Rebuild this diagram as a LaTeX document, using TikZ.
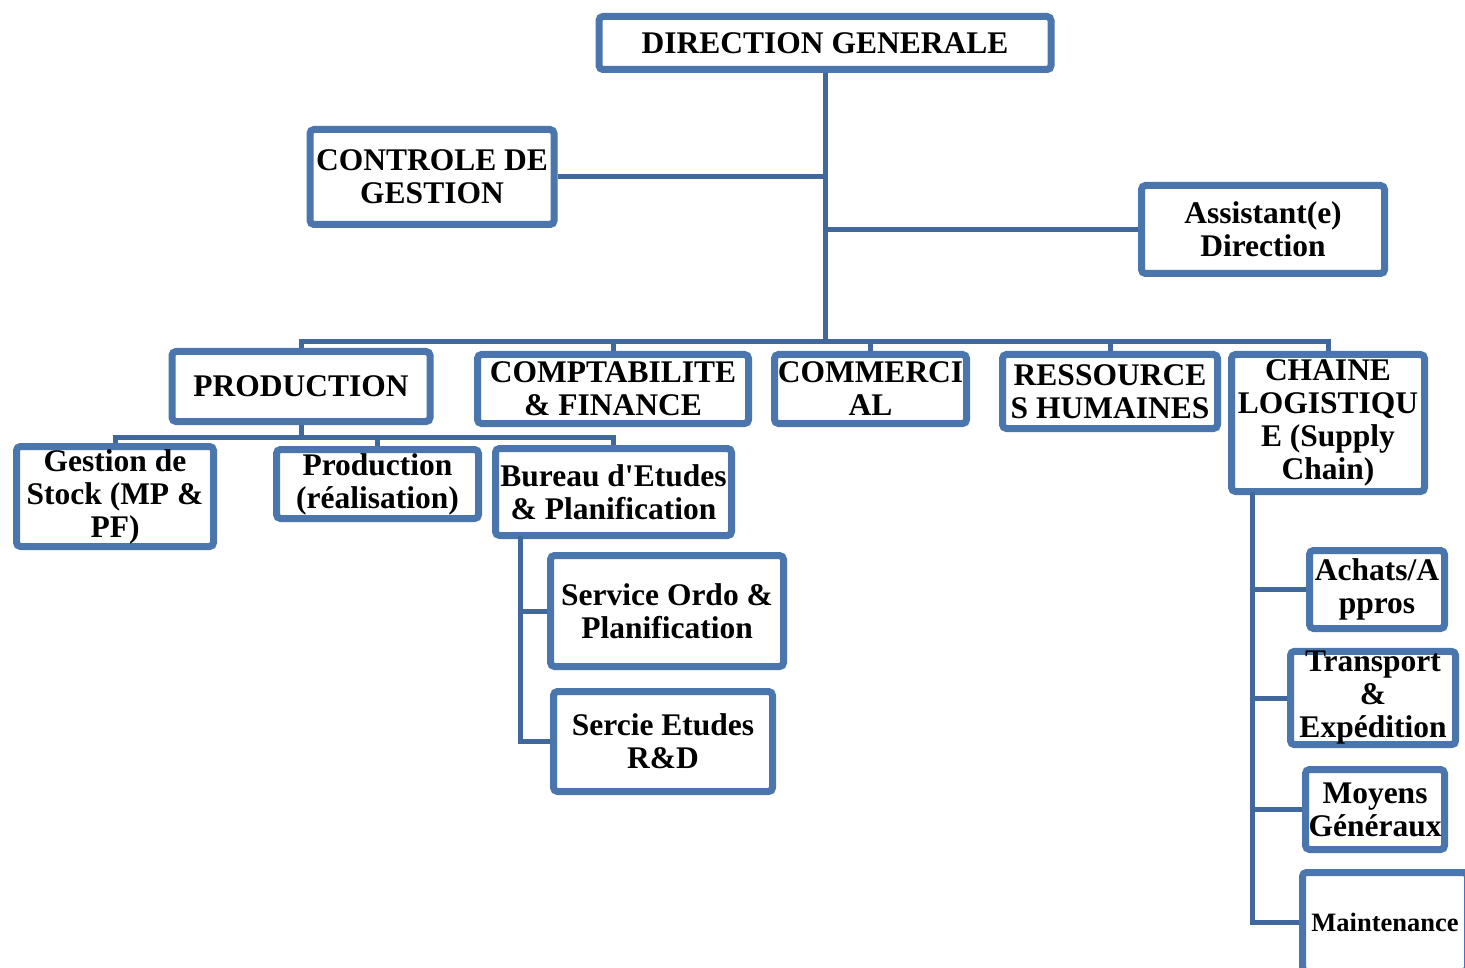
\documentclass[tikz,border=0pt]{standalone}
\usepackage{fontspec}
\setmainfont{Liberation Serif}
\usetikzlibrary{shadows}

\definecolor{boxblue}{HTML}{4A76AD}
\definecolor{lineblue}{HTML}{41689C}

\begin{document}
\begin{tikzpicture}[x=1pt,y=-1pt,
		box/.style={draw=boxblue, line width=7pt, rounded corners=4pt, fill=white, inner sep=0pt, align=center, text=black,
			font=\fontsize{31.5}{33}\selectfont\bfseries,
			drop shadow={shadow xshift=3pt, shadow yshift=-3pt, opacity=0.25}},
		link/.style={draw=lineblue, line width=5pt}]
				\useasboundingbox (0,0) rectangle (1465,968);
				\clip (0,0) rectangle (1465,968);
				
				\node[box, minimum width=452pt, minimum height=53pt] (dg) at (825,43) {DIRECTION GENERALE};
				\node[box, minimum width=244pt, minimum height=95pt] (cg) at (432,177) {CONTROLE DE\\GESTION};
				\node[box, minimum width=243pt, minimum height=88pt] (ad) at (1263,229.5) {Assistant(e)\\Direction};
				
				\node[box, minimum width=258pt, minimum height=70pt] (prod) at (301,386.5) {PRODUCTION};
				\node[box, minimum width=271pt, minimum height=69pt] (cf) at (613,389) {COMPTABILITE\\\& FINANCE};
				\node[box, minimum width=192pt, minimum height=69pt] (cm) at (870.5,389) {COMMERCI\\AL};
				\node[box, minimum width=215pt, minimum height=74pt] (rh) at (1110,391.5) {RESSOURCE\\S HUMAINES};
				\node[box, minimum width=193pt, minimum height=137pt] (cl) at (1328,423) {CHAINE\\LOGISTIQU\\E (Supply\\Chain)};
				
				\node[box, minimum width=197pt, minimum height=100pt] (gs) at (115,496.5) {Gestion de\\Stock (MP \&\\PF)};
				\node[box, minimum width=202pt, minimum height=69pt] (pr) at (377.5,484) {Production\\(réalisation)};
				\node[box, minimum width=236pt, minimum height=87pt] (be) at (613.5,492) {Bureau d\textquotesingle Etudes\\\& Planification};
				\node[box, minimum width=233pt, minimum height=111pt] (so) at (667,611) {Service Ordo \&\\Planification};
				\node[box, minimum width=219pt, minimum height=100pt] (se) at (663,741.5) {Sercie Etudes\\R\&D};
				
				\node[box, minimum width=135pt, minimum height=78pt] (aa) at (1377,589.5) {Achats/A\\ppros};
				\node[box, minimum width=165pt, minimum height=93pt] (tr) at (1373,698) {Transport\\\&\\Expédition};
				\node[box, minimum width=139pt, minimum height=80pt] (mg) at (1375,809.5) {Moyens\\Généraux};
				\node[box, minimum width=165pt, minimum height=99pt, font=\fontsize{26.5}{30}\selectfont\bfseries] (mt) at (1385,922) {Maintenance};
				
				\coordinate (bus) at (825,342);
				\coordinate (pbus) at (301,437);
				\coordinate (bt) at (520,536);
				\coordinate (ct) at (1252,492);
				
				\draw[link] (dg) -- (bus);
				\draw[link] (cg) -- (cg -| bus);
				\draw[link] (ad) -- (ad -| bus);
				\draw[link] (prod.north) |- (bus) -| (cl.north);
				\draw[link] (bus -| cf) -- (cf);
				\draw[link] (bus -| cm) -- (cm);
				\draw[link] (bus -| rh) -- (rh);
				
				\draw[link] (prod) -- (pbus);
				\draw[link] (gs.north) |- (pbus) -| (be.north);
				\draw[link] (pbus -| pr) -- (pr);
				
				\draw[link] (bt) |- (so);
				\draw[link] (bt) |- (se);
				
				\draw[link] (ct) |- (aa);
				\draw[link] (ct) |- (tr);
				\draw[link] (ct) |- (mg);
				\draw[link] (ct) |- (mt);
\end{tikzpicture}
\end{document}
